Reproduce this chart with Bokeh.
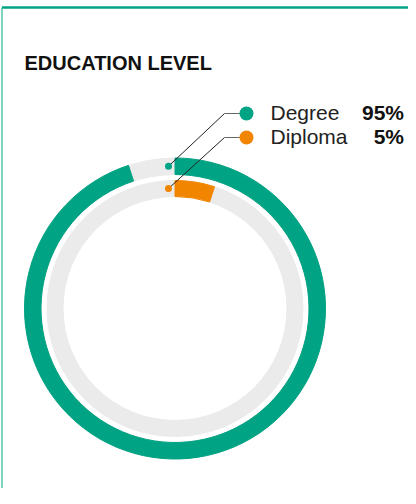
import math
from bokeh.plotting import figure
from bokeh.core.properties import value
from bokeh.embed import file_html
from bokeh.resources import INLINE

title = "EDUCATION LEVEL"
categories = ["Degree", "Diploma"]
percent = [95, 5]
labels = ["95%", "5%"]
colors = ["#00a383", "#f28500"]
track = "#ebebeb"

# ring radii (px), outer ring first
r_in = [134, 112]
r_out = [150.5, 128]

W, H = 408, 488
cx_off, cy_off = 174.5, 308  # circle centre from figure top-left
p = figure(width=W, height=H, output_backend="svg", toolbar_location=None,
           x_range=(-cx_off, W - cx_off), y_range=(-(H - cy_off), cy_off),
           min_border=0, outline_line_color=None)
p.axis.visible = False
p.grid.visible = False
p.background_fill_color = "white"

# frame lines
p.line(x=[-173, W - cx_off + 2], y=[301, 301], line_color="#00a383", line_width=2.5)
p.line(x=[-173, -173], y=[301, -(H - cy_off) - 2], line_color="#00a383", line_width=1)

font = value("Liberation Sans")
p.text(x=[-150.5], y=[246], text=[title], text_font=font, text_font_size="20px",
       text_font_style="bold", text_color="#111111", text_baseline="middle")

for i, (cat, pct, lab, col) in enumerate(zip(categories, percent, labels, colors)):
    p.annular_wedge(x=0, y=0, inner_radius=r_in[i], outer_radius=r_out[i],
                    start_angle=0, end_angle=2 * math.pi, color=track)
    p.annular_wedge(x=0, y=0, inner_radius=r_in[i], outer_radius=r_out[i],
                    start_angle=math.pi / 2,
                    end_angle=math.pi / 2 - pct / 100 * 2 * math.pi,
                    direction="clock", color=col)
    rm = (r_in[i] + r_out[i]) / 2
    dot_x, dot_y = -6.5, rm
    ly = 195 - 24 * i
    bx, mx = 49.5, 71.5
    p.line(x=[dot_x, bx], y=[dot_y, ly], line_color="#222222", line_width=1)
    p.line(x=[bx, mx], y=[ly, ly], line_color="#666666", line_width=1)
    p.scatter(x=[dot_x], y=[dot_y], size=7, color=col, line_color=None)
    p.scatter(x=[mx], y=[ly], size=14, color=col, line_color=None)
    p.text(x=[95.5], y=[ly + 1], text=[cat], text_font=font, text_font_size="21px",
           text_color="#222222", text_baseline="middle")
    p.text(x=[229], y=[ly + 1], text=[lab], text_font=font, text_font_size="21px",
           text_font_style="bold", text_color="#111111", text_baseline="middle",
           text_align="right")

open("out.html", "w").write(file_html(p, INLINE))
